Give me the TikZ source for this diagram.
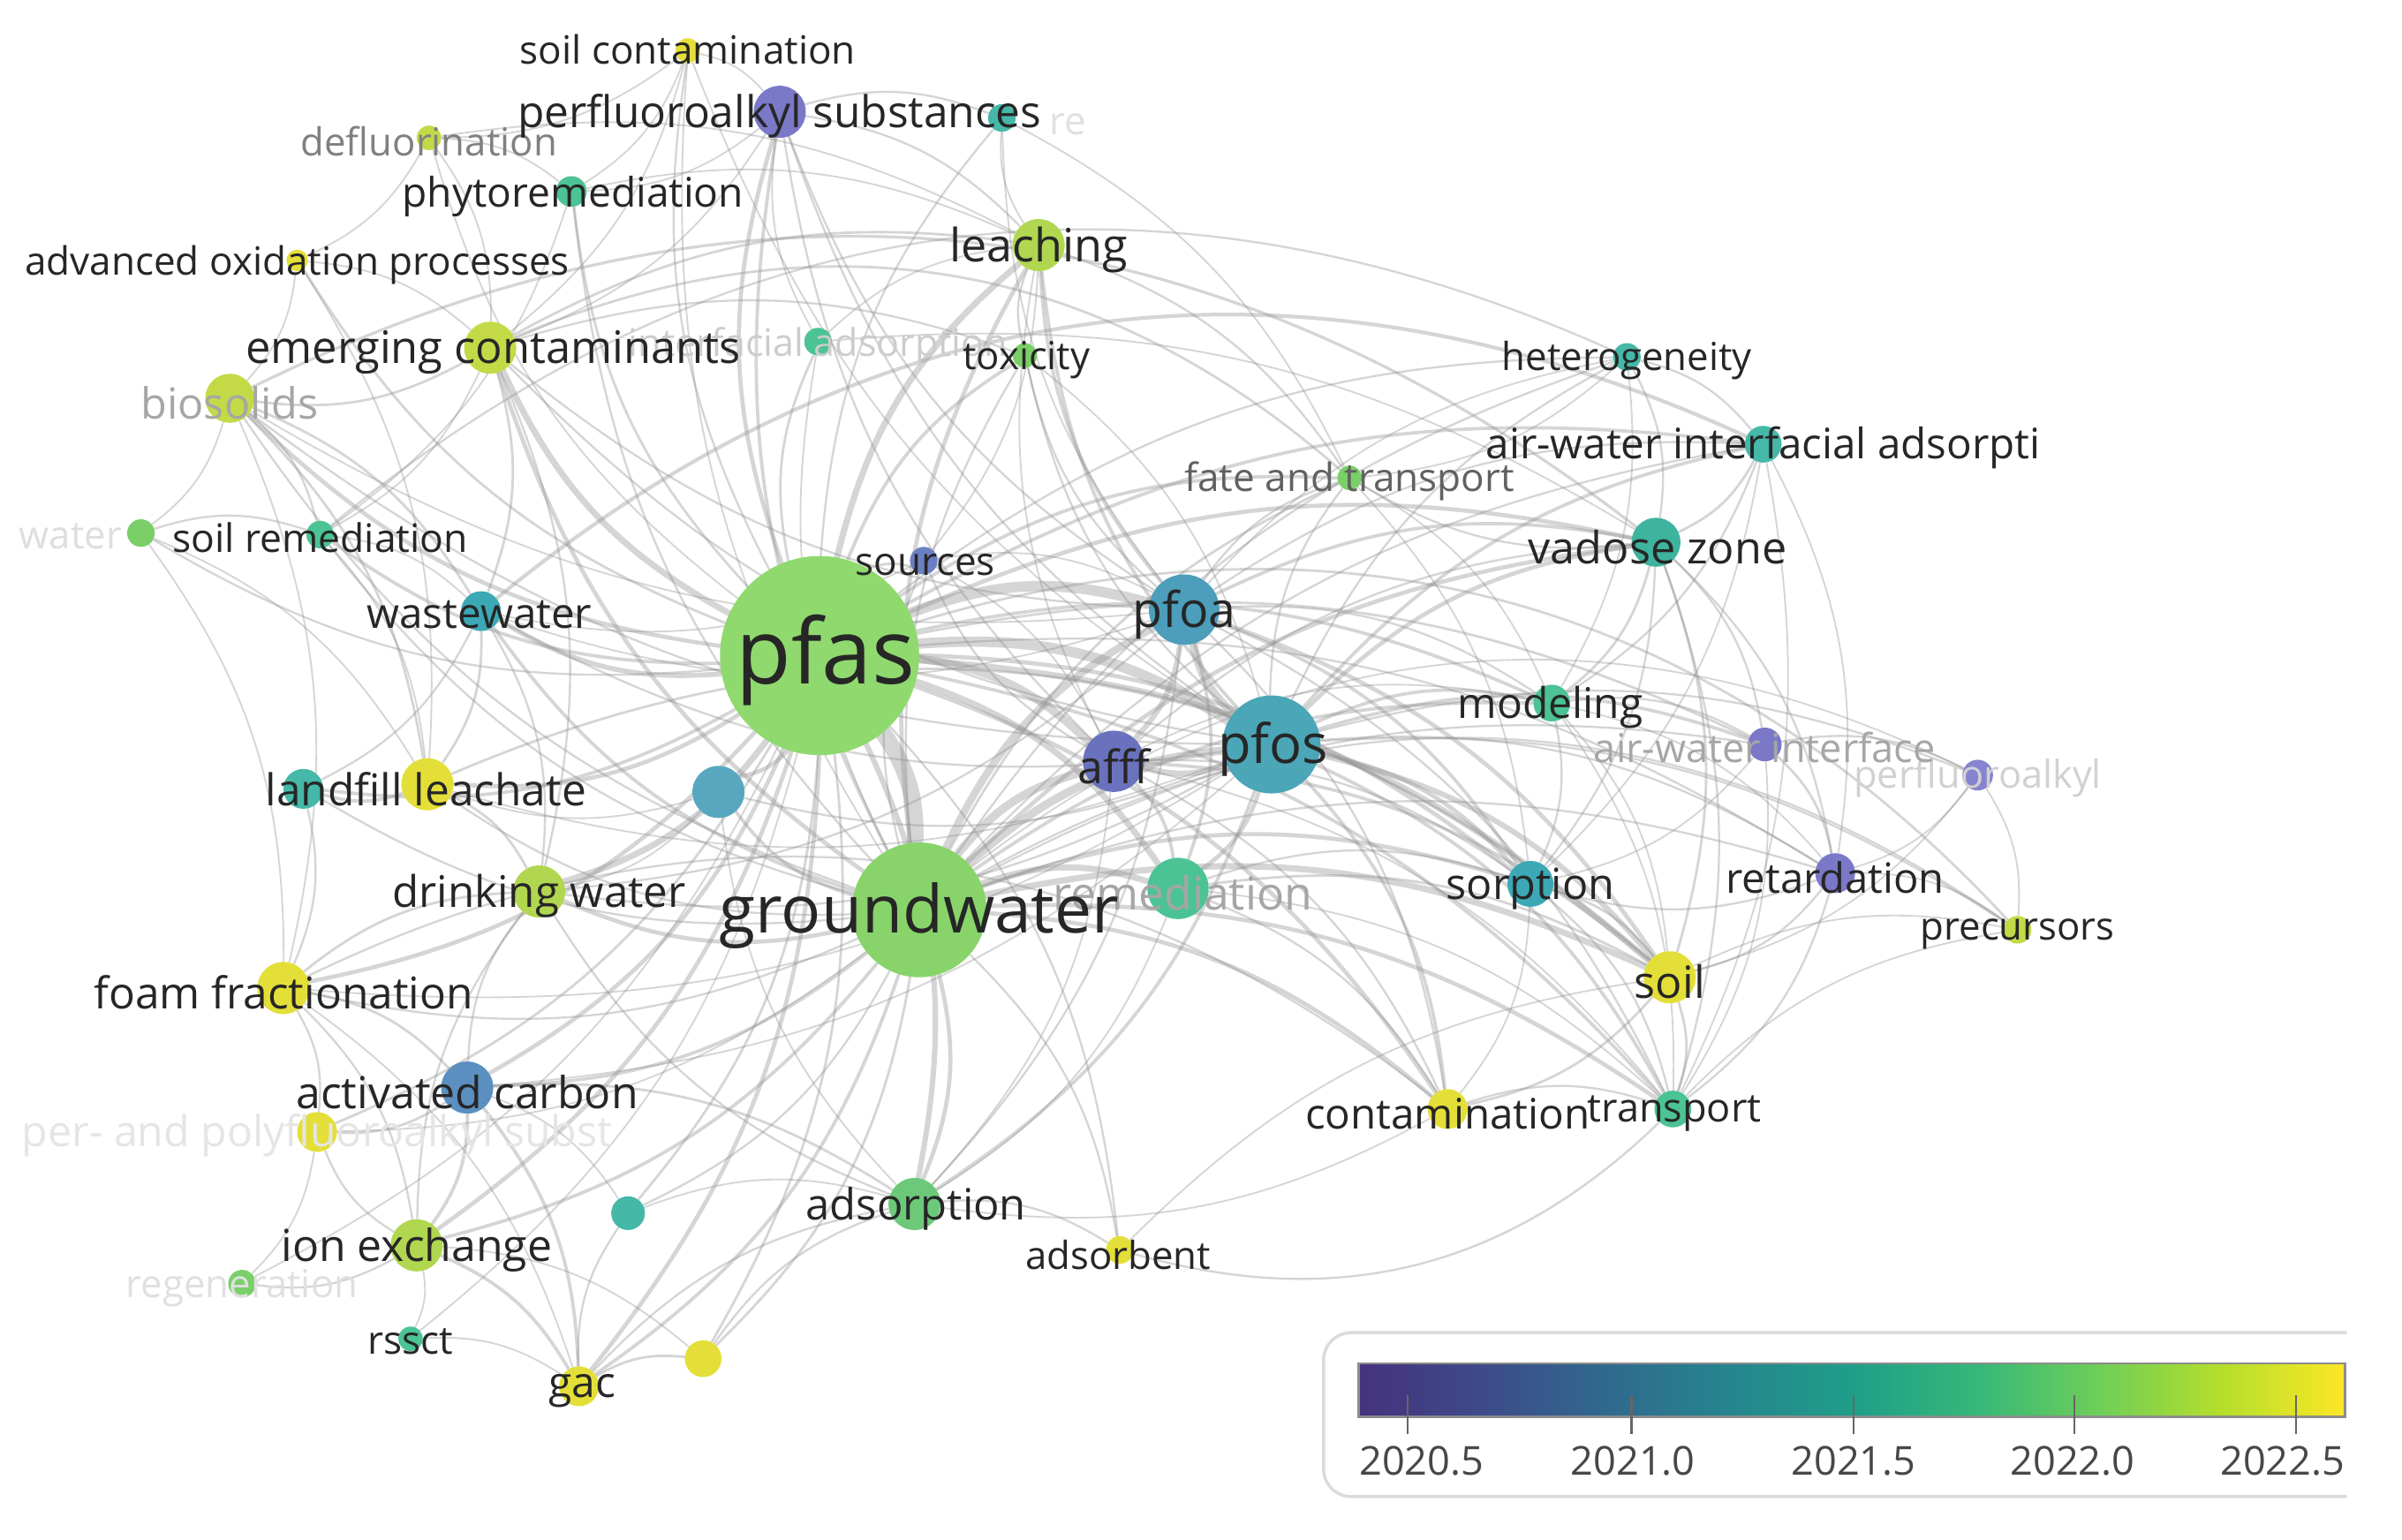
\documentclass[tikz,border=0pt]{standalone}
\usepackage{fontspec}
\setmainfont{Open Sans}
\pgfdeclarelayer{bg}
\pgfsetlayers{bg,main}
% node colours
\definecolor{cY}{HTML}{E4DF38}
\definecolor{cYG}{HTML}{C3DA46}
\definecolor{cLea}{HTML}{B0D74F}
\definecolor{cG}{HTML}{8FD96E}
\definecolor{cGW}{HTML}{88D46B}
\definecolor{cGr}{HTML}{7ACF68}
\definecolor{cAds}{HTML}{6CC97A}
\definecolor{cTG}{HTML}{4CC395}
\definecolor{cT}{HTML}{45B8A8}
\definecolor{cVZ}{HTML}{3EB39E}
\definecolor{cWW}{HTML}{3CA8B5}
\definecolor{cPF}{HTML}{4BA6B7}
\definecolor{cPA}{HTML}{4C9EBB}
\definecolor{cU1}{HTML}{57A8BE}
\definecolor{cAC}{HTML}{5B8FC0}
\definecolor{cSrc}{HTML}{6A80C3}
\definecolor{cP}{HTML}{7B78C8}
\definecolor{cAF}{HTML}{6A72BE}
\definecolor{cPL}{HTML}{8683D0}
\definecolor{labc}{HTML}{262626}
% viridis
\definecolor{v0}{HTML}{46327E}
\definecolor{v1}{HTML}{3E4A89}
\definecolor{v2}{HTML}{30698E}
\definecolor{v3}{HTML}{25858E}
\definecolor{v4}{HTML}{1F9E89}
\definecolor{v5}{HTML}{35B779}
\definecolor{v6}{HTML}{6ECE58}
\definecolor{v7}{HTML}{B5DE2B}
\definecolor{v8}{HTML}{FDE725}
\pgfdeclarehorizontalshading{viridis}{100bp}{color(0bp)=(v0); color(25bp)=(v0); color(31.25bp)=(v1); color(37.5bp)=(v2); color(43.75bp)=(v3); color(50bp)=(v4); color(56.25bp)=(v5); color(62.5bp)=(v6); color(68.75bp)=(v7); color(75bp)=(v8); color(100bp)=(v8)}
\begin{document}
\begin{tikzpicture}[x=0.5pt,y=-0.5pt,
  kwn/.style 2 args={circle,inner sep=0pt,draw=none,fill=#2,minimum size=#1pt},
  lab/.style={font=\fontsize{#1}{#1}\selectfont,text=labc,inner sep=0pt,yshift=-1.5pt},
  faded/.style={text=black!#1},
  edge/.style={draw=gray!85,opacity=0.38,line cap=round},
  tick/.style={draw=black!60,line width=0.6pt},
  ticklab/.style={font=\fontsize{13}{13}\selectfont,text=black!72,inner sep=0pt}]
\useasboundingbox (0,0) rectangle (1568,1005);
% ---------------- nodes ----------------
\node[kwn={8}{cY}]   (sc)   at (449,33)  {};
\node[kwn={17}{cP}]  (ps)   at (509,73)  {};
\node[kwn={9}{cT}]   (tr)   at (654,77)  {};
\node[kwn={8}{cYG}]  (df)   at (280,90)  {};
\node[kwn={10}{cTG}] (phy)  at (373,125) {};
\node[kwn={7}{cY}]   (aop)  at (194,170) {};
\node[kwn={17}{cLea}](lea)  at (678,160) {};
\node[kwn={17}{cYG}] (ec)   at (320,227) {};
\node[kwn={9}{cTG}]  (ia)   at (534,223) {};
\node[kwn={8}{cGr}]  (tox)  at (669,232) {};
\node[kwn={16}{cYG}] (bio)  at (150,260) {};
\node[kwn={9}{cT}]   (het)  at (1062,233){};
\node[kwn={12}{cT}]  (awia) at (1151,290){};
\node[kwn={8}{cGr}]  (fat)  at (881,312) {};
\node[kwn={16}{cVZ}] (vz)   at (1081,354){};
\node[kwn={9}{cGr}]  (wat)  at (92,348)  {};
\node[kwn={9}{cTG}]  (sr)   at (209,349) {};
\node[kwn={9}{cSrc}] (src)  at (603,366) {};
\node[kwn={13}{cWW}] (ww)   at (314,399) {};
\node[kwn={65}{cG}]  (pfas) at (535,428) {};
\node[kwn={23}{cPA}] (pfoa) at (773,398) {};
\node[kwn={12}{cTG}] (mod)  at (1013,459){};
\node[kwn={11}{cP}]  (awi)  at (1152,486){};
\node[kwn={10}{cPL}] (pfa)  at (1291,506){};
\node[kwn={20}{cAF}] (afff) at (727,497) {};
\node[kwn={32}{cPF}] (pfos) at (830,486) {};
\node[kwn={13}{cT}]  (lft)  at (198,515) {};
\node[kwn={17}{cY}]  (ll)   at (279,512) {};
\node[kwn={17}{cU1}] (unk1) at (469,517) {};
\node[kwn={17}{cLea}](dw)   at (352,582) {};
\node[kwn={44}{cGW}] (gw)   at (600,594) {};
\node[kwn={20}{cTG}] (rem)  at (769,580) {};
\node[kwn={15}{cWW}] (sor)  at (999,577) {};
\node[kwn={13}{cP}]  (ret)  at (1198,570){};
\node[kwn={9}{cYG}]  (pre)  at (1317,607){};
\node[kwn={17}{cY}]  (ff)   at (185,645) {};
\node[kwn={17}{cY}]  (soil) at (1090,638){};
\node[kwn={17}{cAC}] (ac)   at (305,710) {};
\node[kwn={13}{cY}]  (pp)   at (207,739) {};
\node[kwn={13}{cY}]  (con)  at (945,724) {};
\node[kwn={12}{cTG}] (tra)  at (1092,724){};
\node[kwn={17}{cAds}](ads)  at (597,786) {};
\node[kwn={11}{cT}]  (unk2) at (410,792) {};
\node[kwn={17}{cLea}](ie)   at (272,813) {};
\node[kwn={9}{cY}]   (adb)  at (731,816) {};
\node[kwn={9}{cGr}]  (reg)  at (158,838) {};
\node[kwn={8}{cTG}]  (rss)  at (268,874) {};
\node[kwn={13}{cY}]  (gac)  at (378,905) {};
\node[kwn={12}{cY}]  (unk3) at (459,887) {};
% ---------------- edges ----------------
\begin{pgfonlayer}{bg}
\fill[white] (0,0) rectangle (1568,1005);
\foreach \a/\b/\w in {
pfas/gw/4, pfas/pfos/2.5, pfas/pfoa/2.5, pfas/afff/2, gw/pfos/2, gw/pfoa/1.8, gw/afff/2, pfos/pfoa/2, pfos/afff/1.5, pfoa/afff/1.3,
pfas/ec/1.5, pfas/lea/1.5, pfas/ww/1.2, pfas/dw/1.5, pfas/ll/1, pfas/ff/1, pfas/ac/1, pfas/ads/1.3, pfas/soil/1.5, pfas/rem/1.5, pfas/sor/1, pfas/vz/1, pfas/mod/0.8, pfas/ps/1, pfas/bio/1, pfas/sr/0.8, pfas/ie/1, pfas/gac/1, pfas/con/1, pfas/tra/0.8, pfas/fat/0.8, pfas/awia/0.8, pfas/sc/0.5, pfas/phy/0.6, pfas/aop/0.6, pfas/tox/0.8, pfas/src/0.6, pfas/unk1/1, pfas/unk2/0.6, pfas/unk3/0.6, pfas/het/0.5, pfas/awi/0.6, pfas/ret/0.5, pfas/adb/0.5, pfas/reg/0.4, pfas/rss/0.4, pfas/wat/0.5, pfas/df/0.4, pfas/ia/0.6, pfas/tr/0.5, pfas/lft/0.8, pfas/pp/0.6,
gw/rem/1.5, gw/soil/1.5, gw/con/1, gw/tra/1, gw/sor/1, gw/vz/1, gw/lea/1, gw/ec/1, gw/ads/1, gw/dw/1, gw/ac/0.8, gw/ie/0.8, gw/gac/0.8, gw/ff/0.5, gw/ll/0.5, gw/mod/0.8, gw/ps/0.8, gw/src/0.5, gw/tox/0.5, gw/fat/0.6, gw/awi/0.5, gw/ret/0.5, gw/awia/0.5, gw/het/0.5, gw/unk1/0.8, gw/unk2/0.5, gw/unk3/0.6, gw/adb/0.5, gw/ww/0.8, gw/sr/0.5, gw/phy/0.5, gw/bio/0.5, gw/pp/0.4, gw/lft/0.5, gw/ia/0.4, gw/sc/0.4,
pfos/soil/1.3, pfos/sor/1, pfos/vz/1, pfos/mod/0.8, pfos/awia/0.8, pfos/awi/0.8, pfos/ret/0.5, pfos/tra/0.8, pfos/con/0.8, pfos/rem/1, pfos/lea/0.8, pfos/ads/0.8, pfos/ec/0.5, pfos/ww/0.5, pfos/fat/0.5, pfos/het/0.5, pfos/pfa/0.5, pfos/pre/0.5, pfos/ps/0.5, pfos/dw/0.5, pfos/bio/0.5, pfos/ff/0.4, pfos/ll/0.4, pfos/unk1/0.5, pfos/ac/0.4, pfos/sc/0.4, pfos/tox/0.5,
pfoa/soil/1, pfoa/vz/0.8, pfoa/sor/0.8, pfoa/lea/0.8, pfoa/fat/0.5, pfoa/ps/0.5, pfoa/awia/0.5, pfoa/mod/0.5, pfoa/ec/0.5, pfoa/tox/0.5, pfoa/rem/0.8, pfoa/ads/0.5, pfoa/dw/0.5, pfoa/tr/0.4, pfoa/het/0.4, pfoa/bio/0.4, pfoa/con/0.5, pfoa/tra/0.5, pfoa/ww/0.4,
afff/soil/0.8, afff/rem/0.8, afff/src/0.5, afff/vz/0.5, afff/con/0.5, afff/ps/0.5, afff/sor/0.5, afff/ads/0.4, afff/tra/0.4, afff/mod/0.4, afff/lea/0.4,
sc/ps/0.4, sc/phy/0.4, sc/df/0.4, sc/ec/0.4, ps/tr/0.5, ps/lea/0.5, ps/phy/0.4, ps/ec/0.4, df/phy/0.4, df/aop/0.4, df/ec/0.4, df/lea/0.4, aop/ec/0.4, aop/bio/0.4, aop/ll/0.4, ec/bio/0.6, ec/ww/0.6, ec/lea/0.6, ec/tox/0.5, ec/dw/0.5, ec/sr/0.4, bio/sr/0.5, bio/wat/0.4, bio/ww/0.6, bio/ll/0.6, bio/ff/0.4, wat/sr/0.5, wat/ll/0.4, wat/ff/0.4, sr/ww/0.4, sr/ll/0.4, ww/ll/0.6, ww/dw/0.5, ww/lft/0.5, ll/lft/0.8, lft/ff/0.5, ll/dw/0.6, ff/dw/0.6, ff/ac/0.6, ff/pp/0.5, ff/ie/0.5, ff/gac/0.4, ac/ie/0.8, ac/pp/0.6, ac/gac/0.8, ac/dw/0.5, ac/ads/0.6, ac/unk2/0.4, ie/reg/0.5, ie/rss/0.4, ie/gac/0.8, ie/pp/0.5, ie/unk3/0.4, ie/dw/0.5, pp/reg/0.4, rss/gac/0.4, gac/unk3/0.6, gac/unk2/0.5, gac/ads/0.5, unk2/ads/0.4, unk3/ads/0.5, ads/adb/0.5, ads/dw/0.5, ads/unk1/0.4, adb/soil/0.4,
het/awia/0.5, het/vz/0.5, het/fat/0.4, het/mod/0.4, awia/vz/0.6, awia/mod/0.5, awia/sor/0.4, awia/ret/0.4, awia/tra/0.4, vz/mod/0.6, vz/awi/0.5, vz/ret/0.5, vz/tra/0.5, vz/soil/0.6, vz/sor/0.5, vz/fat/0.5, mod/awi/0.5, mod/sor/0.5, mod/ret/0.4, mod/tra/0.4, mod/soil/0.4, awi/pfa/0.5, awi/ret/0.6, awi/sor/0.4, awi/tra/0.4, pfa/ret/0.4, pfa/pre/0.4, pfa/soil/0.4, ret/pre/0.4, ret/soil/0.5, ret/tra/0.5, ret/sor/0.5, sor/soil/0.6, sor/tra/0.5, sor/con/0.4, soil/tra/0.6, soil/con/0.6, soil/pre/0.4, con/tra/0.5,
tox/lea/0.5, lea/fat/0.5, lea/src/0.4, lea/tr/0.4, tr/fat/0.4, rem/soil/0.6, rem/con/0.5, rem/sor/0.5, rem/ads/0.4, rem/tra/0.4, fat/sor/0.4, fat/mod/0.4, src/afff/0.4, src/pfoa/0.4, unk1/dw/0.4, unk1/ll/0.4, src/ww/0.4, ia/ps/0.4, ia/lea/0.4, ia/vz/0.4, phy/lea/0.4, phy/sr/0.4, tox/pfos/0.4, con/ads/0.4, tra/pre/0.4}
  {\draw[edge,line width={1.35*\w pt}] (\a) to[bend left=18] (\b);}
% long sweeping arcs
\foreach \a/\b/\w in {pfas/pre/0.6, gw/pre/0.5, gw/pfa/0.4, ww/awia/0.9, bio/vz/0.7, ec/fat/0.6, sr/het/0.5, ll/soil/0.6, ff/con/0.5}
  {\draw[edge,line width={1.35*\w pt}] (\a) to[bend left=32] (\b);}
\draw[edge,line width=0.7pt] (adb) to[bend right=30] (tra);
\end{pgfonlayer}
% ---------------- labels ----------------
\node[lab=12.6,faded=12] (tr-l) at (697,78) {re};
\node[lab=12.6,faded=13] (wat-l) at (80,347) [anchor=east] {water};
\node[lab=12.4,faded=20] (ia-l) at (534,223) {interfacial adsorption};
\node[lab=13.9,faded=10] (pp-l) at (207,738) {per- and polyfluoroalkyl subst};
\node[lab=12.6,faded=12] (reg-l) at (158,838) {regeneration};
\node[lab=12.5,faded=18] (pfa-l) at (1291,505) {perfluoroalkyl};
\node[lab=13,faded=35]   (awi-l) at (1152,485) {air-water interface};
\node[lab=14.9,faded=35] (rem-l) at (772,580) {remediation};
\node[lab=14,faded=35]   (bio-l) at (150,260) {biosolids};
\node[lab=12.6,faded=50] (df-l)  at (280,89) {defluorination};
\node[lab=12.7,faded=62] (fat-l) at (881,311) {fate and transport};
\node[lab=12.7] (sc-l)   at (449,29)  {soil contamination};
\node[lab=14.3] (ps-l)   at (509,73)  {perfluoroalkyl substances};
\node[lab=13.3] (phy-l)  at (374,125) {phytoremediation};
\node[lab=12.7] (aop-l)  at (194,170) {advanced oxidation processes};
\node[lab=15]   (lea-l)  at (678,160) {leaching};
\node[lab=14.6] (ec-l)   at (322,227) {emerging contaminants};
\node[lab=12.6] (tox-l)  at (670,232) {toxicity};
\node[lab=12.6] (het-l)  at (1062,232){heterogeneity};
\node[lab=13.7] (awia-l) at (1151,289){air-water interfacial adsorpti};
\node[lab=14.5] (vz-l)   at (1082,354){vadose zone};
\node[lab=12.8] (sr-l)   at (209,348) {soil remediation};
\node[lab=12.7] (src-l)  at (604,366) {sources};
\node[lab=13.7] (ww-l)   at (313,398) {wastewater};
\node[lab=29.5] (pfas-l) at (539,428) {pfas};
\node[lab=16]   (pfoa-l) at (773,398) {pfoa};
\node[lab=13.8] (mod-l)  at (1012,459){modeling};
\node[lab=15]   (afff-l) at (727,497) {afff};
\node[lab=17.7] (pfos-l) at (831,486) {pfos};
\node[lab=14.3] (ll-l)   at (278,512) {landfill leachate};
\node[lab=14.2] (dw-l)   at (352,582) {drinking water};
\node[lab=21.6] (gw-l)   at (600,595) {groundwater};
\node[lab=14]   (sor-l)  at (999,577) {sorption};
\node[lab=13.6] (ret-l)  at (1198,570){retardation};
\node[lab=12.6] (pre-l)  at (1317,607){precursors};
\node[lab=14.3] (ff-l)   at (185,645) {foam fractionation};
\node[lab=14.5] (soil-l) at (1090,638){soil};
\node[lab=14.4] (ac-l)   at (305,710) {activated carbon};
\node[lab=13.7] (con-l)  at (945,724) {contamination};
\node[lab=13]   (tra-l)  at (1093,724){transport};
\node[lab=14.1] (ads-l)  at (598,786) {adsorption};
\node[lab=14.4] (ie-l)   at (272,813) {ion exchange};
\node[lab=12.6] (adb-l)  at (730,816) {adsorbent};
\node[lab=12.7] (rss-l)  at (268,873) {rssct};
\node[lab=13.8] (gac-l)  at (380,905) {gac};
% ---------------- colour bar ----------------
\coordinate (boxtr) at (1532,870);
\coordinate (boxbr) at (1532,977);
\draw[black!14,line width=1pt,rounded corners=9pt] (boxtr) -- (864,870) -- (864,977) -- (boxbr);
\shade[shading=viridis] (887,890) rectangle (1531,925);
\draw[black!45,line width=0.8pt] (887,890) rectangle (1531,925);
\foreach \x/\n in {919/ta, 1065/tb, 1210/tc, 1354/td, 1499/te}{
  \coordinate (\n-top) at (\x,911);
  \coordinate (\n-bot) at (\x,936);
  \draw[tick] (\n-top) -- (\n-bot);
}
\node[ticklab] (l-a) at (928,954) {2020.5};
\node[ticklab] (l-b) at (1066,954) {2021.0};
\node[ticklab] (l-c) at (1210,954) {2021.5};
\node[ticklab] (l-d) at (1353,954) {2022.0};
\node[ticklab] (l-e) at (1490,954) {2022.5};
\end{tikzpicture}
\end{document}
